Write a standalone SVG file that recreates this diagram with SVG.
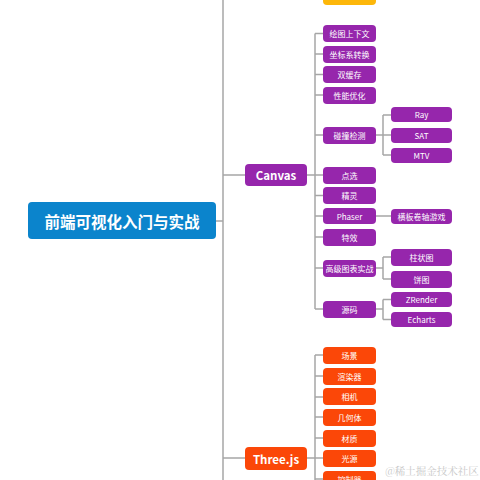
<svg xmlns="http://www.w3.org/2000/svg" width="480" height="480" viewBox="0 0 480 480">
<style>
.ln{fill:none;stroke:#a6a6a6;stroke-width:1.5}
.p{fill:#9626ac}
.o{fill:#fb4708}
.y{fill:#fdb70a}
.t{fill:#fff;font-family:"Noto Sans CJK SC","Noto Sans",sans-serif;font-size:8px;text-anchor:middle;dominant-baseline:central}
.tm{fill:#fff;font-family:"Noto Sans CJK SC","Noto Sans",sans-serif;font-size:11.5px;font-weight:bold;text-anchor:middle;dominant-baseline:central}
.tr{fill:#fff;font-family:"Noto Sans CJK SC",sans-serif;font-size:15.5px;font-weight:bold;text-anchor:middle;dominant-baseline:central}
</style>
<rect width="480" height="480" fill="#fff"/>
<g id="connectors">
<path class="ln" d="M223 0V480M216 221H223M223 175H245M223 458H245"/>
<path class="ln" d="M307 175H315M315 33.5H323M315 54H323M315 74.5H323M315 95H323M315 135H323M315 175H323M315 195.5H323M315 216H323M315 237H323M315 268H323M315 309H323M315 33.5V309"/>
<path class="ln" d="M376 135H391M383 115V155M383 115H391M383 155H391M376 216H391M376 268H383M383 257V279M383 257H391M383 279H391M376 309H383M383 299.5V319.5M383 299.5H391M383 319.5H391"/>
<path class="ln" d="M307 458H315M315 355V480M315 355H323M315 376H323M315 397H323M315 417H323M315 438H323M315 458H323M315 479H323"/>
</g>
<g id="root"><rect x="28" y="202" width="188" height="37" rx="4" fill="#0b84cc"/><text class="tr" x="122" y="220.5">前端可视化入门与实战</text></g>
<g id="yellow"><rect class="y" x="323" y="-12" width="53" height="17" rx="4"/></g>
<g id="canvas"><rect class="p" x="245" y="164" width="62" height="22" rx="4"/><text class="tm" x="276" y="175">Canvas</text></g>
<g id="c1"><rect class="p" x="323" y="25" width="53" height="17" rx="4"/><text class="t" x="349.5" y="33.5">绘图上下文</text></g>
<g id="c2"><rect class="p" x="323" y="46" width="53" height="17" rx="4"/><text class="t" x="349.5" y="54.5">坐标系转换</text></g>
<g id="c3"><rect class="p" x="323" y="66" width="53" height="17" rx="4"/><text class="t" x="349.5" y="74.5">双缓存</text></g>
<g id="c4"><rect class="p" x="323" y="87" width="53" height="17" rx="4"/><text class="t" x="349.5" y="95.5">性能优化</text></g>
<g id="c5"><rect class="p" x="323" y="127" width="53" height="17" rx="4"/><text class="t" x="349.5" y="135.5">碰撞检测</text></g>
<g id="c6"><rect class="p" x="323" y="167" width="53" height="17" rx="4"/><text class="t" x="349.5" y="175.5">点选</text></g>
<g id="c7"><rect class="p" x="323" y="187" width="53" height="17" rx="4"/><text class="t" x="349.5" y="195.5">精灵</text></g>
<g id="c8"><rect class="p" x="323" y="208" width="53" height="16" rx="4"/><text class="t" x="349.5" y="216">Phaser</text></g>
<g id="c9"><rect class="p" x="323" y="229" width="53" height="17" rx="4"/><text class="t" x="349.5" y="237.5">特效</text></g>
<g id="c10"><rect class="p" x="323" y="260" width="53" height="17" rx="4"/><text class="t" x="349.5" y="268.5">高级图表实战</text></g>
<g id="c11"><rect class="p" x="323" y="301" width="53" height="17" rx="4"/><text class="t" x="349.5" y="309.5">源码</text></g>
<g id="g1"><rect class="p" x="391" y="107" width="61" height="15" rx="4"/><text class="t" x="421.5" y="114.5">Ray</text></g>
<g id="g2"><rect class="p" x="391" y="128" width="61" height="15" rx="4"/><text class="t" x="421.5" y="135.5">SAT</text></g>
<g id="g3"><rect class="p" x="391" y="148" width="61" height="15" rx="4"/><text class="t" x="421.5" y="155.5">MTV</text></g>
<g id="g4"><rect class="p" x="391" y="209" width="61" height="15" rx="4"/><text class="t" x="421.5" y="216.5">横板卷轴游戏</text></g>
<g id="g5"><rect class="p" x="391" y="249" width="61" height="17" rx="4"/><text class="t" x="421.5" y="257.5">柱状图</text></g>
<g id="g6"><rect class="p" x="391" y="271" width="61" height="17" rx="4"/><text class="t" x="421.5" y="279.5">饼图</text></g>
<g id="g7"><rect class="p" x="391" y="292" width="61" height="15" rx="4"/><text class="t" x="421.5" y="299.5">ZRender</text></g>
<g id="g8"><rect class="p" x="391" y="312" width="61" height="15" rx="4"/><text class="t" x="421.5" y="319.5">Echarts</text></g>
<g id="three"><rect class="o" x="245" y="447" width="62" height="23" rx="4"/><text class="tm" x="276" y="458.5">Three.js</text></g>
<g id="t1"><rect class="o" x="323" y="347" width="53" height="17" rx="4"/><text class="t" x="349.5" y="355.5">场景</text></g>
<g id="t2"><rect class="o" x="323" y="368" width="53" height="17" rx="4"/><text class="t" x="349.5" y="376.5">渲染器</text></g>
<g id="t3"><rect class="o" x="323" y="388" width="53" height="17" rx="4"/><text class="t" x="349.5" y="396.5">相机</text></g>
<g id="t4"><rect class="o" x="323" y="409" width="53" height="17" rx="4"/><text class="t" x="349.5" y="417.5">几何体</text></g>
<g id="t5"><rect class="o" x="323" y="430" width="53" height="17" rx="4"/><text class="t" x="349.5" y="438.5">材质</text></g>
<g id="t6"><rect class="o" x="323" y="450" width="53" height="17" rx="4"/><text class="t" x="349.5" y="458.5">光源</text></g>
<g id="t7"><rect class="o" x="323" y="471" width="53" height="17" rx="4"/><text class="t" x="349.5" y="479">控制器</text></g>
<text x="432" y="470" fill="#c8c8c8" font-family="'Noto Serif CJK SC','Noto Sans CJK SC',serif" font-size="10.5" text-anchor="middle" dominant-baseline="central">@稀土掘金技术社区</text>
</svg>
